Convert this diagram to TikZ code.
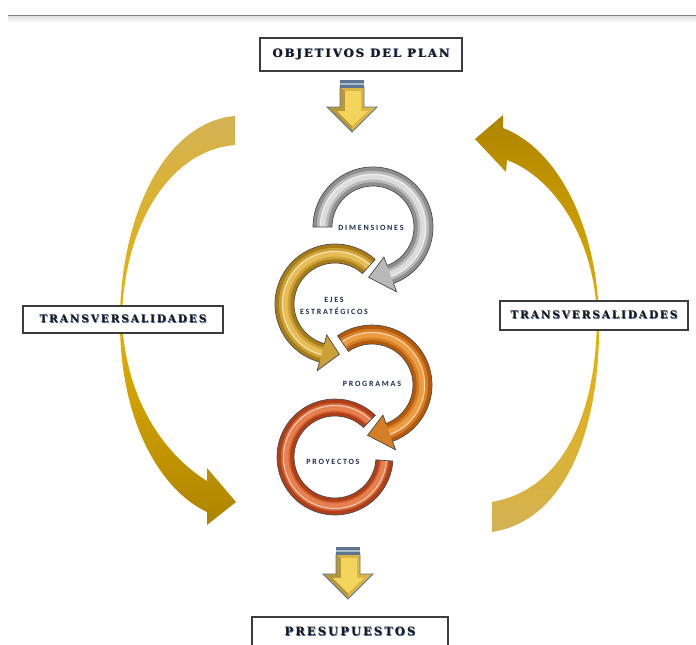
\documentclass[tikz,border=0pt]{standalone}
\usepackage{fontspec}
\setmainfont{DejaVu Serif}
\newfontfamily\boxfont[LetterSpace=18]{DejaVu Serif}
\newfontfamily\ringfont[LetterSpace=22]{Carlito}
\usetikzlibrary{calc}
\definecolor{shblue}{HTML}{3A5A9A}
\definecolor{boxline}{HTML}{3C3C3C}
\definecolor{navy}{HTML}{1B2A4E}
\definecolor{goldA}{HTML}{D3B255}
\definecolor{goldB}{HTML}{E6B100}
\definecolor{goldC}{HTML}{AD8400}
\definecolor{ringline}{HTML}{4A4A4A}
\definecolor{grayD}{HTML}{8E8E8E}
\definecolor{grayL}{HTML}{DCDCDC}
\definecolor{goldD}{HTML}{A87C16}
\definecolor{goldL}{HTML}{E6BE55}
\definecolor{oranD}{HTML}{B55A0A}
\definecolor{oranL}{HTML}{EE9C40}
\definecolor{redD}{HTML}{B03E18}
\definecolor{redL}{HTML}{E8804E}
\definecolor{arrEdge}{HTML}{5E7592}
\definecolor{arrMid}{HTML}{AEBBCB}
\definecolor{arrBase}{HTML}{D9B645}
\definecolor{arrDark}{HTML}{B8973A}
\definecolor{arrFace}{HTML}{F3D45C}
\newcommand\shtext[1]{\makebox[0pt][l]{\hspace{0.7pt}\raisebox{-0.7pt}{\textcolor{shblue}{#1}}}#1}
\newcommand\blkarrow[2]{%
  \begin{scope}[shift={(#1,#2)}]
    \path[fill=arrBase] (-12,7) -- (12,7) -- (12,27) -- (25,27) -- (0,52) -- (-25,27) -- (-12,27) -- cycle;
    \fill[arrDark] (-12,7.5) -- (-7,11) -- (-7,31) -- (-15,31) -- (0,46) -- (0,52) -- (-25,27) -- (-12,27) -- cycle;
    \fill[arrFace] (-7,11) -- (9,11) -- (9,31) -- (16,31) -- (0,46) -- (-15,31) -- (-7,31) -- cycle;
    \draw[arrEdge, line width=0.8] (-12,7) -- (12,7) -- (12,27) -- (25,27) -- (0,52) -- (-25,27) -- (-12,27) -- cycle;
    \fill[arrEdge] (-12,0) rectangle (12,3);
    \fill[arrMid] (-12,3) rectangle (12,5);
    \fill[arrEdge] (-12,5) rectangle (12,7.5);
  \end{scope}}
\tikzset{
  tbox/.style={draw=boxline, line width=1.2, fill=white, inner sep=0pt, text=black!90,
    font=\boxfont\bfseries\fontsize{11.5}{13}\selectfont},
  rlabel/.style={inner sep=0pt, text=navy, align=center,
    font=\ringfont\bfseries\fontsize{8}{12}\selectfont},
  pics/ringarr/.style n args={5}{code={
    \path[fill=#5!55!#4] (#1:60) arc[start angle=#1, end angle=#2, radius=60] -- (#2:69) -- (#3:50.5) -- (#2:32) -- (#2:41) arc[start angle=#2, end angle=#1, radius=41] -- cycle;
    \draw[#4, line width=3.5] (#1:58) arc[start angle=#1, end angle=#2, radius=58];
    \draw[#4, line width=3.5] (#1:43) arc[start angle=#1, end angle=#2, radius=43];
    \draw[#5, line width=6] (#1:50.5) arc[start angle=#1, end angle=#2, radius=50.5];
    \draw[white, line width=1, opacity=0.6] (#1:52.5) arc[start angle=#1, end angle=#2, radius=52.5];
    \draw[ringline, line width=0.7] (#1:60) arc[start angle=#1, end angle=#2, radius=60] -- (#2:69) -- (#3:50.5) -- (#2:32) -- (#2:41) arc[start angle=#2, end angle=#1, radius=41] -- cycle;
  }},
  pics/ringplain/.style n args={4}{code={
    \path[fill=#4!55!#3] (#1:58) arc[start angle=#1, end angle=#2, radius=58] -- (#2:41) arc[start angle=#2, end angle=#1, radius=41] -- cycle;
    \draw[#3, line width=3.5] (#1:56) arc[start angle=#1, end angle=#2, radius=56];
    \draw[#3, line width=3.5] (#1:43) arc[start angle=#1, end angle=#2, radius=43];
    \draw[#4, line width=6] (#1:49.5) arc[start angle=#1, end angle=#2, radius=49.5];
    \draw[white, line width=1, opacity=0.6] (#1:51.5) arc[start angle=#1, end angle=#2, radius=51.5];
    \draw[ringline, line width=0.7] (#1:58) arc[start angle=#1, end angle=#2, radius=58] -- (#2:41) arc[start angle=#2, end angle=#1, radius=41] -- cycle;
  }}
}
\begin{document}
\begin{tikzpicture}[x=1pt, y=-1pt]
\useasboundingbox (0,0) rectangle (696,645);
\clip (0,0) rectangle (696,645);
% top rule
\fill[top color=black!12, bottom color=white] (8,16) rectangle (696,23);
\draw[black!50, line width=1.2] (8,15.5) -- (696,15.5);
% big curved arrows
\path[top color=goldA, bottom color=goldC, middle color=goldB]
  (235,116) .. controls (165,122) and (121,215) .. (120,318)
  .. controls (119,420) and (160,490) .. (207,512)
  -- (207,525) -- (236,502) -- (207,468) -- (207,481)
  .. controls (165,455) and (125,400) .. (122,318)
  .. controls (124,225) and (170,150) .. (235,145) -- cycle;
\path[top color=goldC, bottom color=goldA, middle color=goldB]
  (503,128) .. controls (560,150) and (597,230) .. (599,318)
  .. controls (601,420) and (570,520) .. (492,532)
  -- (492,502)
  .. controls (560,490) and (596,420) .. (597,318)
  .. controls (595,240) and (555,178) .. (507,160)
  -- (506,172) -- (475,139) -- (503,115) -- cycle;
% boxes
\node[tbox, minimum width=202, minimum height=33] (obj) at (361,54.5) {\shtext{OBJETIVOS DEL PLAN}};
\node[tbox, minimum width=200, minimum height=27, font=\boxfont\bfseries\fontsize{10.5}{12}\selectfont] (tl) at (123,319.5) {\shtext{TRANSVERSALIDADES}};
\node[tbox, minimum width=188, minimum height=29, font=\boxfont\bfseries\fontsize{10.5}{12}\selectfont] (tr) at (594,315.5) {\shtext{TRANSVERSALIDADES}};
\node[tbox, minimum width=196, minimum height=30] (pre) at (350,632) {\shtext{PRESUPUESTOS}};
% rings
\pic (rproy) at (335,457) {ringplain={-46}{-356}{redD}{redL}};
\pic (rprog) at (372,385) {ringarr={-125}{70}{95}{oranD}{oranL}};
\pic (rejes) at (335,304) {ringarr={-48}{-255}{-275}{goldD}{goldL}};
\pic (rdim) at (373,227) {ringarr={-180}{70}{95}{grayD}{grayL}};
% labels
\node[rlabel] (dim) at (371,228) {DIMENSIONES};
\node[rlabel] (ejes) at (334,306) {EJES\\ESTRATÉGICOS};
\node[rlabel] (prog) at (372,384) {PROGRAMAS};
\node[rlabel] (proy) at (333,462) {PROYECTOS};
% block arrows
\blkarrow{352}{80}
\blkarrow{348}{547}
\end{tikzpicture}
\end{document}
